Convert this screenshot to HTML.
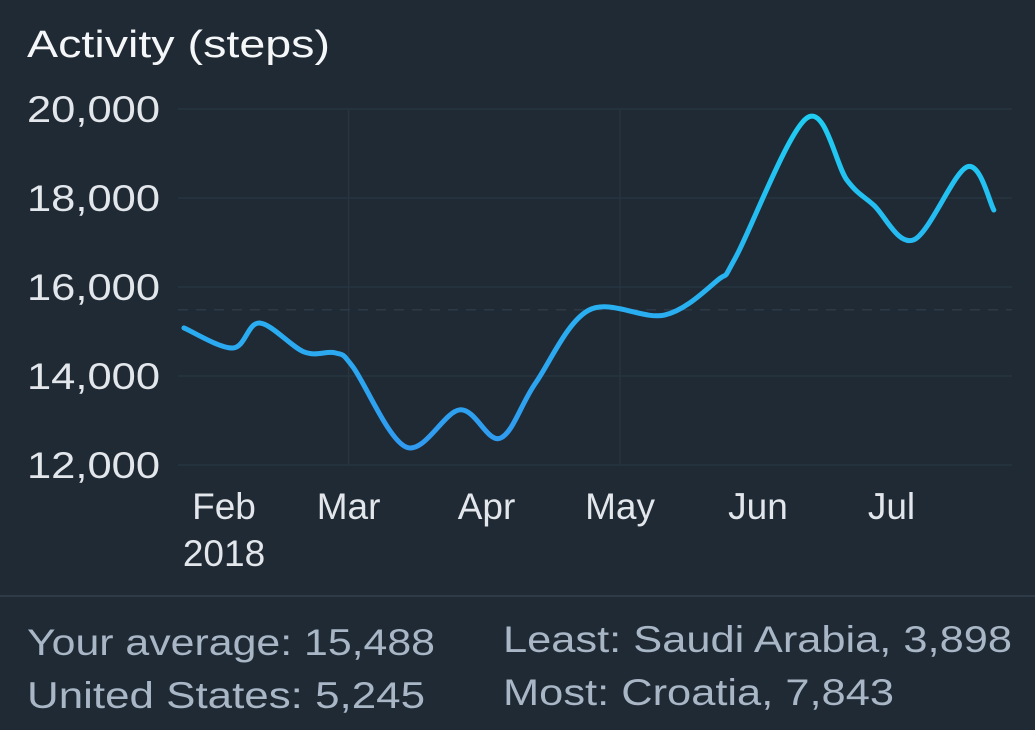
<!DOCTYPE html>
<html><head><meta charset="utf-8"><style>
html,body{margin:0;padding:0;background:#1f2a35;}
svg{display:block;font-family:"Liberation Sans",sans-serif;}
</style></head><body>
<svg width="1035" height="730" viewBox="0 0 1035 730">
<defs>
<linearGradient id="lg" gradientUnits="userSpaceOnUse" x1="0" y1="465" x2="0" y2="110">
<stop offset="0" stop-color="#3198f0"/><stop offset="1" stop-color="#1fcdf2"/>
</linearGradient>
</defs>
<rect width="1035" height="730" fill="#1f2a35"/>
<text x="27" y="57" fill="#f4f6f8" font-size="38" textLength="303" lengthAdjust="spacingAndGlyphs">Activity (steps)</text>
<g id="grid"></g>
<g id="yaxis"></g>
<g id="xaxis"></g>
<path id="line" fill="none" stroke="url(#lg)" stroke-width="5" stroke-linecap="round" stroke-linejoin="round"/>
<line x1="0" y1="596" x2="1035" y2="596" stroke="#2f3b47" stroke-width="2"/>
<text x="27" y="655" fill="#a9b6c6" font-size="37" textLength="408" lengthAdjust="spacingAndGlyphs">Your average: 15,488</text>
<text x="27" y="708" fill="#a9b6c6" font-size="37" textLength="398" lengthAdjust="spacingAndGlyphs">United States: 5,245</text>
<text x="503" y="652" fill="#a9b6c6" font-size="37" textLength="509" lengthAdjust="spacingAndGlyphs">Least: Saudi Arabia, 3,898</text>
<text x="503" y="705" fill="#a9b6c6" font-size="37" textLength="391" lengthAdjust="spacingAndGlyphs">Most: Croatia, 7,843</text>
</svg>
<script>
// days since Feb 1 2018
const days = [-9,2,8,18,25,29,41,53,62,70,82,99,111,115,131,140,146,155,167,173];
const steps = [15080,14630,15190,14540,14520,14200,12400,13240,12600,13840,15480,15370,16160,16670,19800,18400,17840,17060,18700,17730];
const yTicks = [12000,14000,16000,18000,20000];
const yTickLabels = ["12,000","14,000","16,000","18,000","20,000"];
const months = ["Feb","Mar","Apr","May","Jun","Jul"];
const monthDays = [0,28,59,89,120,150];
const average = 15488;

const NS="http://www.w3.org/2000/svg";
function xs(d){return 224+d*4.45;}
function ys(v){return 465-(v-12000)/2000*89;}
function mk(tag,attrs,parent){const e=document.createElementNS(NS,tag);for(const k in attrs)e.setAttribute(k,attrs[k]);parent.appendChild(e);return e;}
const grid=document.getElementById('grid'),ya=document.getElementById('yaxis'),xa=document.getElementById('xaxis');
yTicks.forEach((t,i)=>{
  const l=mk('line',{x1:178,x2:1012,y1:ys(t),y2:ys(t),stroke:'#273441','stroke-width':1.5},grid);
  
  
  const tx=mk('text',{x:27,y:ys(t)+13,fill:'#e3e7ec','font-size':37,textLength:133,lengthAdjust:'spacingAndGlyphs'},ya);
  tx.textContent=yTickLabels[i];
  
  
});
[1,3].forEach(i=>{
  const l=mk('line',{x1:xs(monthDays[i]),x2:xs(monthDays[i]),y1:110,y2:465,stroke:'#273441','stroke-width':1.5},grid);
  
  
});
const al=mk('line',{x1:178,x2:1012,y1:ys(average),y2:ys(average),stroke:'#2c3946','stroke-width':1.5,'stroke-dasharray':'10 8'},grid);


months.forEach((m,i)=>{
  const t=mk('text',{x:xs(monthDays[i]),y:519,fill:'#e3e7ec','font-size':37,'text-anchor':'middle'},xa);
  t.textContent=m;
  
  
});
const yr=mk('text',{x:xs(0),y:566,fill:'#e3e7ec','font-size':37,'text-anchor':'middle'},xa);
yr.textContent='2018';


const P=days.map((d,i)=>[xs(d),ys(steps[i])]);
let d='M'+P[0][0]+','+P[0][1];
for(let i=0;i<P.length-1;i++){
  const p0=P[i-1]||P[i],p1=P[i],p2=P[i+1],p3=P[i+2]||P[i+1];
  const c1=[p1[0]+(p2[0]-p0[0])/6,p1[1]+(p2[1]-p0[1])/6];
  const c2=[p2[0]-(p3[0]-p1[0])/6,p2[1]-(p3[1]-p1[1])/6];
  d+=' C'+c1[0]+','+c1[1]+' '+c2[0]+','+c2[1]+' '+p2[0]+','+p2[1];
}
document.getElementById('line').setAttribute('d',d);
</script>
</body></html>
